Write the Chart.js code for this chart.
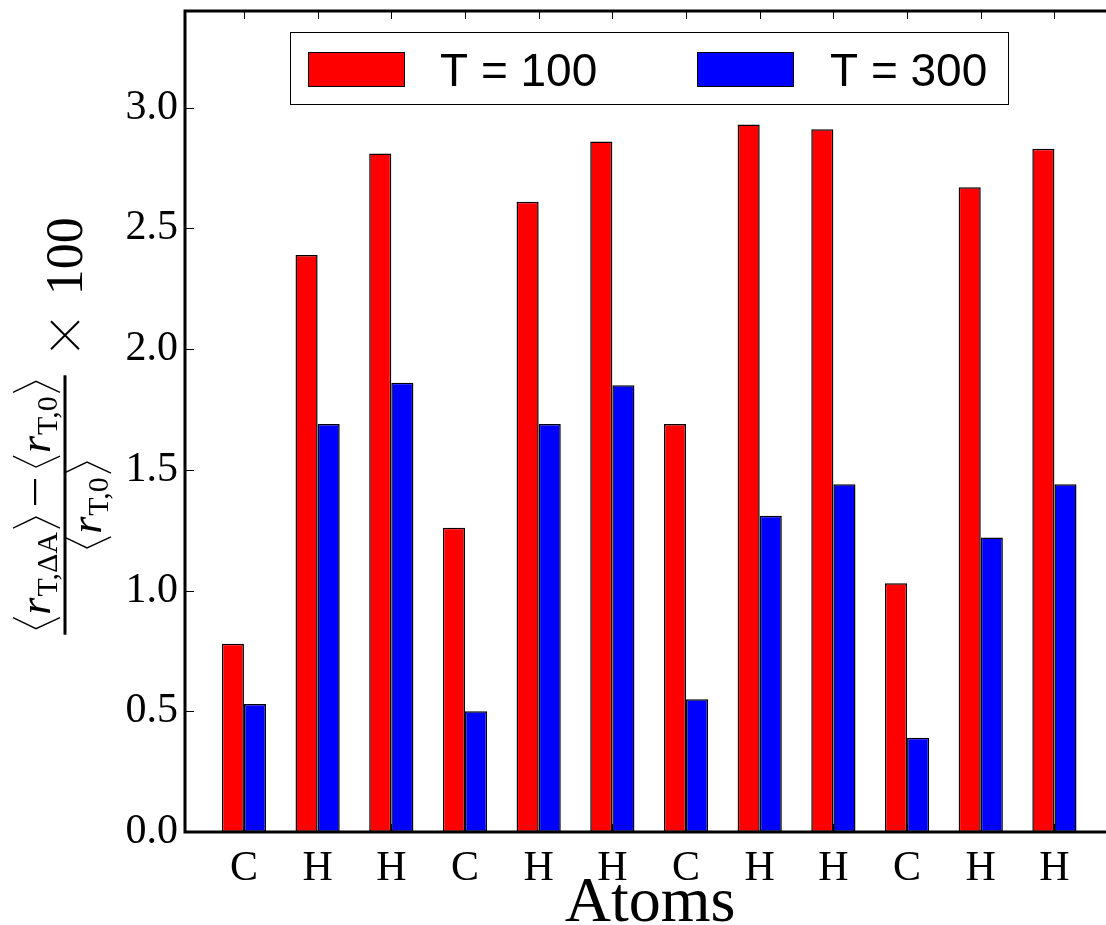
<!DOCTYPE html>
<html>
<head>
<meta charset="utf-8">
<script src="https://cdn.jsdelivr.net/npm/chart.js@4.4.1/dist/chart.umd.min.js"></script>
<style>
  html, body { margin: 0; padding: 0; background: #fff; }
  #plot { display: block; }
</style>
</head>
<body>
<canvas id="plot" width="1106" height="925"></canvas>
<script>
// ===== DATA =====
const atoms = ['C', 'H', 'H', 'C', 'H', 'H', 'C', 'H', 'H', 'C', 'H', 'H'];
const t100 = [0.78, 2.39, 2.81, 1.26, 2.61, 2.86, 1.69, 2.93, 2.91, 1.03, 2.67, 2.83];
const t300 = [0.53, 1.69, 1.86, 0.50, 1.69, 1.85, 0.55, 1.31, 1.44, 0.39, 1.22, 1.44];
const yTicks = [0.0, 0.5, 1.0, 1.5, 2.0, 2.5, 3.0];
const seriesLabels = ['T = 100', 'T = 300'];
const seriesColors = ['#ff0000', '#0000ff'];

const serif = '"Liberation Serif", "DejaVu Serif", serif';

// ===== DECORATIONS (spines, inner ticks, labels, legend) =====
function angle(ctx, x, w, h, open) {
    // open = 'L' for ⟨, 'R' for ⟩ ; drawn in rotated frame, baseline-relative
    ctx.beginPath();
    if (open === 'L') {
        ctx.moveTo(x + w, h.top); ctx.lineTo(x, h.mid); ctx.lineTo(x + w, h.bot);
    } else {
        ctx.moveTo(x, h.top); ctx.lineTo(x + w, h.mid); ctx.lineTo(x, h.bot);
    }
    ctx.stroke();
}

// lays out <r_{sub}> pieces along local x, returns total width (draw=false just measures)
function mathRun(ctx, items, x0, base, draw) {
    let x = x0;
    const bw = 11, gap = 3;
    const h = { top: base - 37, mid: base - 14, bot: base + 10 };
    items.forEach(it => {
        if (it === 'L' || it === 'R') {
            x += gap;
            if (draw) angle(ctx, x, bw, h, it);
            x += bw + gap;
        } else if (it === '-') {
            x += 9;
            if (draw) { ctx.fillRect(x, base - 16, 26, 2.2); }
            x += 26 + 9;
        } else if (it.r) {
            ctx.font = 'italic 44px ' + serif;
            if (draw) ctx.fillText('r', x, base);
            x += ctx.measureText('r').width + 1;
            ctx.font = '30px ' + serif;
            if (draw) ctx.fillText(it.sub, x, base + 7);
            x += ctx.measureText(it.sub).width + 1;
        }
    });
    return x - x0;
}

const decorPlugin = {
    id: 'decor',
    afterDraw(chart) {
        const ctx = chart.ctx;
        const area = chart.chartArea;
        const xs = chart.scales.x, ys = chart.scales.y;
        ctx.save();
        ctx.fillStyle = '#000';
        ctx.strokeStyle = '#000';

        // inner ticks
        ctx.lineWidth = 1;
        yTicks.forEach(v => {
            const y = Math.round(ys.getPixelForValue(v)) + 0.5;
            ctx.beginPath(); ctx.moveTo(area.left, y); ctx.lineTo(area.left + 9, y); ctx.stroke();
        });
        atoms.forEach((a, i) => {
            const x = Math.round(xs.getPixelForValue(i)) + 0.5;
            ctx.beginPath(); ctx.moveTo(x, area.top); ctx.lineTo(x, area.top + 8); ctx.stroke();
            ctx.beginPath(); ctx.moveTo(x, area.bottom); ctx.lineTo(x, area.bottom - 8); ctx.stroke();
        });

        // spines (right one falls off the canvas)
        ctx.lineWidth = 3;
        ctx.beginPath();
        ctx.moveTo(area.right + 2, area.top);
        ctx.lineTo(area.left, area.top);
        ctx.lineTo(area.left, area.bottom);
        ctx.lineTo(area.right + 2, area.bottom);
        ctx.stroke();

        // x title
        ctx.font = '64px ' + serif;
        ctx.textAlign = 'center';
        ctx.textBaseline = 'alphabetic';
        ctx.fillText('Atoms', 650, 921);

        // y title: fraction, rotated
        ctx.save();
        ctx.translate(65, 505);
        ctx.rotate(-Math.PI / 2);
        ctx.textAlign = 'left';
        ctx.textBaseline = 'alphabetic';
        ctx.lineWidth = 1.4;
        const num = ['L', { r: 1, sub: 'T,ΔA' }, 'R', '-', 'L', { r: 1, sub: 'T,0' }, 'R'];
        const den = ['L', { r: 1, sub: 'T,0' }, 'R'];
        const nw = mathRun(ctx, num, 0, 0, false);
        const dw = mathRun(ctx, den, 0, 0, false);
        const fw = Math.max(nw, dw) + 6;
        mathRun(ctx, num, -nw / 2, -15, true);
        mathRun(ctx, den, -dw / 2, 36, true);
        ctx.fillRect(-fw / 2, -1.5, fw, 3);
        // × 100
        ctx.lineWidth = 2;
        ctx.beginPath();
        ctx.moveTo(fw / 2 + 26, -14); ctx.lineTo(fw / 2 + 54, 14);
        ctx.moveTo(fw / 2 + 26, 14); ctx.lineTo(fw / 2 + 54, -14);
        ctx.stroke();
        ctx.font = '52px ' + serif;
        ctx.fillText('100', fw / 2 + 80, 17);
        ctx.restore();

        // legend
        const lx = 290, ly = 32, lw = 718, lh = 72;
        ctx.fillStyle = '#fff';
        ctx.fillRect(lx, ly, lw, lh);
        ctx.lineWidth = 1;
        ctx.strokeStyle = '#000';
        ctx.strokeRect(lx + 0.5, ly + 0.5, lw, lh);
        const entries = [{ px: 308, tx: 440 }, { px: 697, tx: 830 }];
        ctx.font = '46px "Liberation Sans", Arial, sans-serif';
        ctx.textAlign = 'left';
        entries.forEach((e, i) => {
            ctx.fillStyle = chart.data.datasets[i].backgroundColor;
            ctx.fillRect(e.px, 52, 96, 34);
            ctx.strokeRect(e.px + 0.5, 52.5, 96, 34);
            ctx.fillStyle = '#000';
            ctx.fillText(chart.data.datasets[i].label, e.tx, 86);
        });
        ctx.restore();
    }
};

// ===== CHART =====
const tickFont = { family: serif, size: 42 };

function noPad(s) {
    s.paddingTop = 0; s.paddingBottom = 0; s.paddingLeft = 0; s.paddingRight = 0;
}

new Chart(document.getElementById('plot'), {
    type: 'bar',
    data: {
        datasets: [t100, t300].map((vals, k) => ({
            label: seriesLabels[k],
            data: vals.map((v, i) => ({ x: i, y: v })),
            backgroundColor: seriesColors[k],
            borderColor: '#000',
            borderWidth: 1.5,
            borderSkipped: false,
            categoryPercentage: 0.6,
            barPercentage: 1.0
        }))
    },
    options: {
        responsive: false,
        animation: false,
        layout: { padding: { top: 11, right: 0, left: 0, bottom: 0 } },
        plugins: {
            legend: { display: false },
            tooltip: { enabled: false }
        },
        scales: {
            x: {
                type: 'linear',
                min: -0.8,
                max: 11.7,
                offset: false,
                grid: { display: false, drawTicks: false, offset: false },
                border: { display: false },
                afterBuildTicks: s => { s.ticks = atoms.map((a, i) => ({ value: i })); },
                afterFit: s => { s.height = 93; noPad(s); },
                ticks: {
                    autoSkip: false,
                    maxRotation: 0,
                    padding: 12,
                    color: '#000',
                    font: tickFont,
                    callback: v => atoms[v]
                }
            },
            y: {
                min: 0,
                max: 3.4,
                grid: { display: false, drawTicks: false },
                border: { display: false },
                afterBuildTicks: s => { s.ticks = yTicks.map(v => ({ value: v })); },
                afterFit: s => { s.width = 185; noPad(s); },
                ticks: {
                    padding: 7,
                    color: '#000',
                    font: tickFont,
                    callback: v => v.toFixed(1)
                }
            }
        }
    },
    plugins: [decorPlugin]
});
</script>
</body>
</html>
